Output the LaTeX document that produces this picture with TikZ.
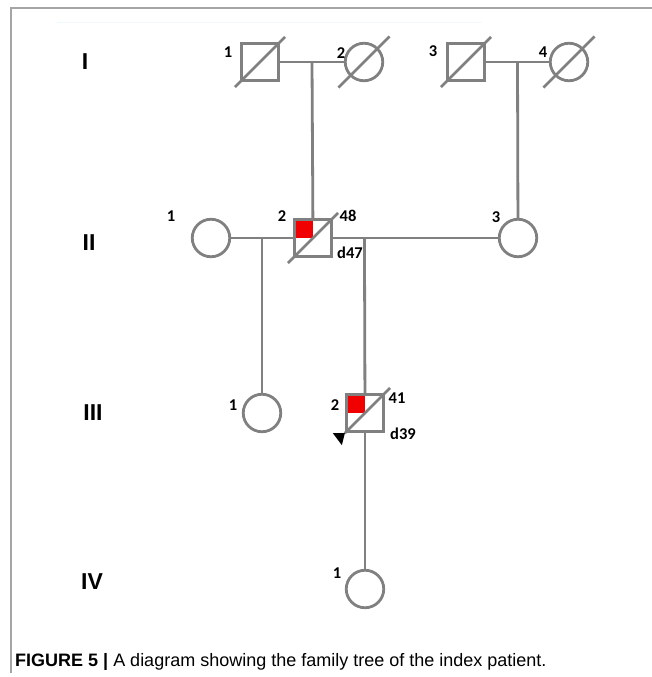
\documentclass[tikz,border=0pt]{standalone}
\usepackage{fontspec}
\setmainfont{Liberation Sans}
\newfontfamily\numfont{Carlito}
\usepackage{tikz}

\definecolor{linegray}{RGB}{128,128,128}
\definecolor{framegray}{RGB}{165,165,165}
\definecolor{affred}{RGB}{240,0,0}

\tikzset{
  kin/.style={draw=linegray, line width=2.8pt, inner sep=0pt, minimum size=37.5pt},
  male/.style={kin, rectangle},
  female/.style={kin, circle},
  affected/.style={path picture={\fill[affred] (path picture bounding box.north west) rectangle (path picture bounding box.center);}},
  kinline/.style={draw=linegray, line width=2.8pt},
  numlab/.style={font=\numfont\bfseries\fontsize{16.5}{16.5}\selectfont, inner sep=0pt},
  genlab/.style={font=\bfseries\fontsize{23}{23}\selectfont, inner sep=0pt}
}

\begin{document}
\begin{tikzpicture}[x=1pt, y=-1pt]
  \useasboundingbox (0,0) rectangle (652,677);
  % frame
  \draw[framegray, line width=1.5pt] (652,8) -- (11,8) -- (11,673);
  \draw[cyan!6, line width=1pt] (57,23) -- (482,23);

  % generation I
  \node[genlab] (gI) at (85,62) {I};
  \node[male] (I1) at (260,62) {};
  \node[female] (I2) at (364,62) {};
  \node[male] (I3) at (466,62) {};
  \node[female] (I4) at (569,62) {};
  \node[numlab] (nI1) at (228,52) {1};
  \node[numlab] (nI2) at (341,53) {2};
  \node[numlab] (nI3) at (433,51) {3};
  \node[numlab] (nI4) at (543,52) {4};

  % generation II
  \node[genlab] (gII) at (89,243) {II};
  \node[female] (II1) at (211,238) {};
  \node[male, affected] (II2) at (313,238) {};
  \node[female] (II3) at (518,238) {};
  \node[numlab] (nII1) at (171,216) {1};
  \node[numlab] (nII2) at (282,216) {2};
  \node[numlab] (aII2) at (348,216) {48};
  \node[numlab] (dII2) at (350,253) {d47};
  \node[numlab] (nII3) at (496,217) {3};

  % generation III
  \node[genlab] (gIII) at (93,413) {III};
  \node[female] (III1) at (262,413) {};
  \node[male, affected] (III2) at (365,413) {};
  \node[numlab] (nIII1) at (233,405) {1};
  \node[numlab] (nIII2) at (335,405) {2};
  \node[numlab] (aIII2) at (397,398) {41};
  \node[numlab] (dIII2) at (403,434) {d39};

  % generation IV
  \node[genlab] (gIV) at (92,582) {IV};
  \node[female] (IV1) at (365,589) {};
  \node[numlab] (nIV1) at (337,573) {1};

  % unions and lines of descent
  \draw[kinline] (I1) -- coordinate (m1) (I2);
  \draw[kinline] (I3) -- coordinate (m2) (I4);
  \draw[kinline] (II1) -- coordinate (m3) (II2);
  \draw[kinline] (II2) -- coordinate[pos=0.19] (m4) (II3);
  \draw[kinline] (m1) -- (II2);
  \draw[kinline] (m2) -- (II3);
  \draw[kinline] (m3) -- (III1);
  \draw[kinline] (m4) -- (III2);
  \draw[kinline] (III2) -- (IV1);

  % deceased
  \draw[kinline, shorten <=-7pt, shorten >=-7pt] (I1.south west) -- (I1.north east);
  \draw[kinline, shorten <=-16pt, shorten >=-16pt] (I2.south west) -- (I2.north east);
  \draw[kinline, shorten <=-7pt, shorten >=-7pt] (I3.south west) -- (I3.north east);
  \draw[kinline, shorten <=-16pt, shorten >=-16pt] (I4.south west) -- (I4.north east);
  \draw[kinline, shorten <=-7pt, shorten >=-7pt] (II2.south west) -- (II2.north east);
  \draw[kinline, shorten >=-7pt] (III2.south west) -- (III2.north east);

  % proband
  \fill[black] (III2.south west) -- ++(-12,0) -- ++(9,12) -- cycle;

  % caption
  \node[anchor=base west, inner sep=0pt, font=\fontsize{18}{18}\selectfont] (cap) at (15,666)
    {\textbf{FIGURE 5 |} A diagram showing the family tree of the index patient.};
\end{tikzpicture}
\end{document}
